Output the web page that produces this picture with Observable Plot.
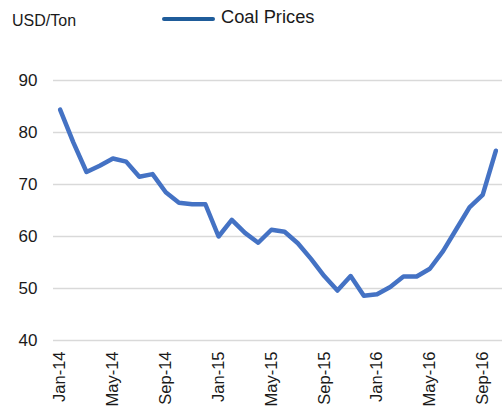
<!DOCTYPE html>
<html>
<head>
<meta charset="utf-8">
<script src="https://cdn.jsdelivr.net/npm/d3@7"></script>
<script src="https://cdn.jsdelivr.net/npm/@observablehq/plot@0.6"></script>
<style>
  html, body { margin: 0; padding: 0; background: #fff; }
  body { width: 502px; height: 413px; overflow: hidden; font-family: "Liberation Sans", Arial, sans-serif; color: #1a1a1a; }
  #header { position: relative; height: 40px; }
  #unit { position: absolute; left: 12px; top: 12px; font-size: 16px; }
  #legend-line { position: absolute; left: 162px; top: 16.5px; width: 53px; height: 4px; border-radius: 2px; background: #1F5C9A; }
  #legend-text { position: absolute; left: 221px; top: 6px; font-size: 18.3px; }
  svg { display: block; }
</style>
</head>
<body>
<div id="header">
  <div id="unit">USD/Ton</div>
  <div id="legend-line"></div>
  <div id="legend-text">Coal Prices</div>
</div>
<div id="chart"></div>
<script>
const months = [
  "Jan-14","Feb-14","Mar-14","Apr-14","May-14","Jun-14","Jul-14","Aug-14","Sep-14","Oct-14","Nov-14","Dec-14",
  "Jan-15","Feb-15","Mar-15","Apr-15","May-15","Jun-15","Jul-15","Aug-15","Sep-15","Oct-15","Nov-15","Dec-15",
  "Jan-16","Feb-16","Mar-16","Apr-16","May-16","Jun-16","Jul-16","Aug-16","Sep-16","Oct-16"
];
const coalPrices = [
  84.4, 78.1, 72.4, 73.6, 75.0, 74.4, 71.5, 72.0, 68.5, 66.5, 66.2, 66.2,
  60.0, 63.2, 60.7, 58.8, 61.3, 60.9, 58.7, 55.7, 52.4, 49.6, 52.4, 48.6,
  48.9, 50.3, 52.3, 52.3, 53.8, 57.2, 61.4, 65.6, 68.0, 76.5
];
const yTicks = [40, 50, 60, 70, 80, 90];
const xTickLabels = ["Jan-14","May-14","Sep-14","Jan-15","May-15","Sep-15","Jan-16","May-16","Sep-16"];

const data = months.map((m, i) => ({month: m, value: coalPrices[i]}));

const chart = Plot.plot({
  width: 502,
  height: 373,
  marginTop: 40,
  marginBottom: 73,
  marginLeft: 53,
  marginRight: 0,
  style: {fontFamily: '"Liberation Sans", Arial, sans-serif', color: "#1a1a1a", background: "#fff"},
  x: {type: "point", domain: months, padding: 0.5, round: false},
  y: {domain: [40, 90]},
  marks: [
    Plot.gridY(yTicks, {stroke: "#D9D9D9", strokeOpacity: 1, strokeWidth: 1.5}),
    Plot.axisY(yTicks, {tickSize: 0, tickPadding: 16, fontSize: 17, label: null}),
    Plot.axisX(xTickLabels, {tickSize: 0, tickPadding: 11, tickRotate: -90, fontSize: 16.5, label: null}),
    Plot.line(data, {x: "month", y: "value", stroke: "#4472C4", strokeWidth: 4.5, strokeLinejoin: "round", strokeLinecap: "round"})
  ]
});
document.getElementById("chart").appendChild(chart);
</script>
</body>
</html>
